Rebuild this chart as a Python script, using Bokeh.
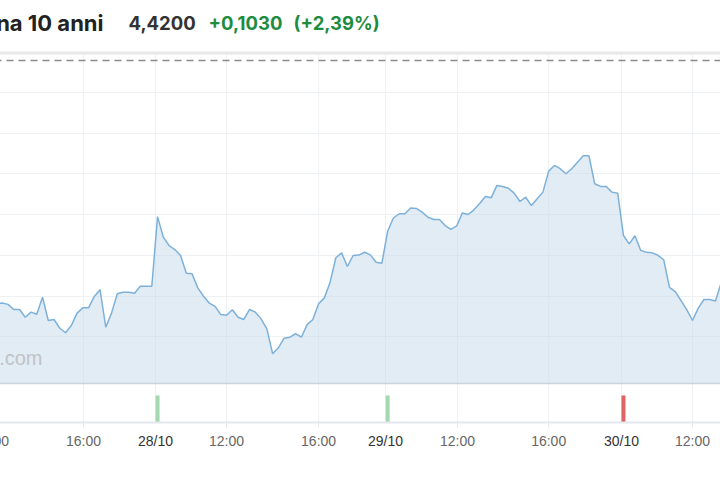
from bokeh.plotting import figure
from bokeh.models import (Range1d, FixedTicker, Label, LabelSet, ColumnDataSource, Span,
                          GlobalInlineStyleSheet)
from bokeh.core.properties import value
from bokeh.embed import file_html
from bokeh.resources import INLINE

# ---- data (15-minute samples, trading time) ----
yields = [
    4.2964, 4.2967, 4.2960, 4.2935, 4.2935, 4.2897, 4.2922, 4.2912, 4.2995, 4.2881,
    4.2886, 4.2843, 4.2821, 4.2856, 4.2917, 4.2943, 4.2943, 4.2999, 4.3032, 4.2848,
    4.2917, 4.3012, 4.3020, 4.3020, 4.3015, 4.3049, 4.3049, 4.3049, 4.3391, 4.3290,
    4.3249, 4.3229, 4.3200, 4.3113, 4.3110, 4.3041, 4.3000, 4.2966, 4.2950, 4.2910,
    4.2907, 4.2934, 4.2897, 4.2886, 4.2935, 4.2922, 4.2889, 4.2840, 4.2718, 4.2747,
    4.2794, 4.2799, 4.2816, 4.2799, 4.2861, 4.2886, 4.2963, 4.2992, 4.3069, 4.3189,
    4.3213, 4.3146, 4.3200, 4.3202, 4.3216, 4.3203, 4.3167, 4.3162, 4.3319, 4.3384,
    4.3405, 4.3405, 4.3433, 4.3431, 4.3413, 4.3388, 4.3377, 4.3377, 4.3347, 4.3328,
    4.3345, 4.3409, 4.3401, 4.3424, 4.3455, 4.3490, 4.3483, 4.3544, 4.3539, 4.3530,
    4.3506, 4.3465, 4.3486, 4.3445, 4.3478, 4.3511, 4.3614, 4.3642, 4.3626, 4.3601,
    4.3626, 4.3658, 4.3689, 4.3689, 4.3552, 4.3539, 4.3539, 4.3511, 4.3506, 4.3298,
    4.3257, 4.3297, 4.3225, 4.3216, 4.3213, 4.3201, 4.3179, 4.3044, 4.3023, 4.2979,
    4.2934, 4.2881, 4.2942, 4.2984, 4.2984, 4.2977, 4.3067,
]
sample_idx = list(range(len(yields)))

day_start_idx = [28, 68, 109]
day_colors = ["#a3d9b1", "#a3d9b1", "#e06464"]

time_tick_pos = [-0.87, 15.13, 40.0, 56.0, 80.15, 96.0, 121.0]
time_tick_labels = ["12:00", "16:00", "12:00", "16:00", "12:00", "16:00", "12:00"]
date_tick_pos = [27.64, 67.63, 108.66]
date_tick_labels = ["28/10", "29/10", "30/10"]

grid_levels = [4.28, 4.30, 4.32, 4.34, 4.36, 4.38, 4.40]
ref_level = 4.4157      # dashed reference line
baseline = 4.2572       # bottom of the price pane
pane_top = 4.41865      # top of the price pane
axis_level = 4.23804    # time axis line
tick_end = 4.23558      # end of the small time ticks
marker_top = 4.2513     # top of the day markers

title_name = "Rendimento Spagna 10 anni"
last_value = "4,4200"
change_abs = "+0,1030"
change_pct = "(+2,39%)"
watermark = "capital.com"

# ---- figure: the frame fills the whole canvas; everything is drawn inside ----
L = 30  # hidden strip on the left (the reference chart is cropped)
W, H = 720 + L, 480

p = figure(width=W, height=H, output_backend="svg", toolbar_location=None,
           x_range=Range1d(-4.52, 125.87), y_range=Range1d(4.20957, 4.44515),
           min_border=0, x_axis_location=None, y_axis_location=None,
           background_fill_color="white", border_fill_color="white")
p.outline_line_color = None
p.styles = {"margin-left": f"-{L}px"}
p.stylesheets = [GlobalInlineStyleSheet(css="body{margin:0;overflow:hidden;}")]

p.ygrid.ticker = FixedTicker(ticks=grid_levels)
p.ygrid.grid_line_color = "#eef1f4"
p.xgrid.visible = False

# vertical grid lines (price pane + marker band)
all_ticks = time_tick_pos + date_tick_pos
p.segment(x0=all_ticks, y0=axis_level, x1=all_ticks, y1=pane_top,
          line_color="#eef1f4", line_width=1, level="underlay")

# area + line
p.varea(x=sample_idx, y1=baseline, y2=yields, fill_color="#c6daeb", fill_alpha=0.5)
p.line(x=sample_idx, y=yields, line_color="#7db1da", line_width=1.5)

# pane bottom edge, dashed reference line, header shadow, axis line
p.add_layout(Span(location=baseline, dimension="width", line_color="#cbd3db", line_width=1.5))
p.add_layout(Span(location=ref_level, dimension="width", line_color="#8a8a8a",
                  line_width=1.5, line_dash="7 5"))
p.add_layout(Span(location=pane_top + 0.0007, dimension="width", line_color="#e8e8e8",
                  line_width=3))
p.add_layout(Span(location=axis_level, dimension="width", line_color="#e3e8ed", line_width=2))

# day markers
p.vbar(x=day_start_idx, width=0.7, bottom=axis_level, top=marker_top,
       fill_color=day_colors, line_color=None)

# time ticks and labels
p.segment(x0=time_tick_pos, y0=axis_level, x1=time_tick_pos, y1=tick_end,
          line_color="#e3e8ed", line_width=1)
time_src = ColumnDataSource(dict(x=time_tick_pos, text=time_tick_labels))
p.add_layout(LabelSet(x="x", y=H - 432, y_units="screen", text="text", source=time_src,
                      text_align="center", text_baseline="top",
                      text_font=value("Liberation Sans"), text_font_size="14px",
                      text_color="#666666"))
date_src = ColumnDataSource(dict(x=date_tick_pos, text=date_tick_labels))
p.add_layout(LabelSet(x="x", y=H - 432, y_units="screen", text="text", source=date_src,
                      text_align="center", text_baseline="top",
                      text_font=value("Liberation Sans"), text_font_size="14px",
                      text_color="#333333"))

# header
hy = H - 22
p.add_layout(Label(x=L + 103, y=hy, x_units="screen", y_units="screen", text=title_name,
                   text_align="right", text_baseline="middle", text_font="Inter",
                   text_font_style="bold", text_font_size="22px", text_color="#222222"))
p.add_layout(Label(x=L + 128, y=hy, x_units="screen", y_units="screen", text=last_value,
                   text_align="left", text_baseline="middle", text_font="Inter",
                   text_font_style="bold", text_font_size="18.5px", text_color="#333333"))
p.add_layout(Label(x=L + 208, y=hy, x_units="screen", y_units="screen", text=change_abs,
                   text_align="left", text_baseline="middle", text_font="Inter",
                   text_font_style="bold", text_font_size="18.5px", text_color="#1e8c3f"))
p.add_layout(Label(x=L + 293, y=hy, x_units="screen", y_units="screen", text=change_pct,
                   text_align="left", text_baseline="middle", text_font="Inter",
                   text_font_style="bold", text_font_size="18.5px", text_color="#1e8c3f"))

# watermark
p.add_layout(Label(x=L + 42, y=H - 357, x_units="screen", y_units="screen",
                   text=watermark, text_align="right", text_baseline="middle",
                   text_font="Liberation Sans", text_font_size="20px", text_color="#bfc3c7"))

open("out.html", "w").write(file_html(p, INLINE))
